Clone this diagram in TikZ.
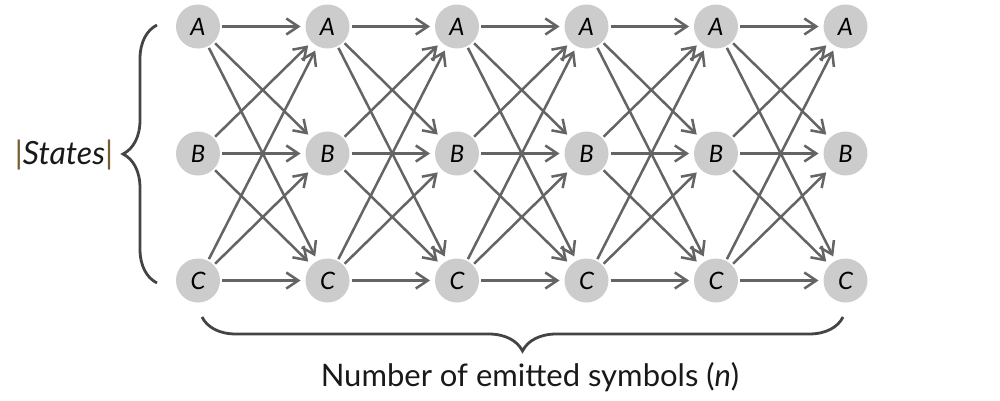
\documentclass[tikz,border=0pt]{standalone}
\usepackage{fontspec}
\setmainfont{Lato}
\usetikzlibrary{arrows.meta, decorations.pathreplacing, matrix, positioning}
\definecolor{stategray}{RGB}{204,204,204}
\definecolor{arrowgray}{RGB}{100,100,100}
\definecolor{bracegray}{RGB}{68,68,68}
\definecolor{barbrown}{RGB}{120,92,50}
\tikzset{
  state/.style={circle, fill=stategray, minimum size=22pt, inner sep=0pt, outer sep=0pt, font=\itshape\fontsize{12}{14}\selectfont},
  pto/.style={-{Straight Barb[length=6pt,width=8pt]}, line width=1.25pt, arrowgray, shorten >=2.5pt, shorten <=1pt},
  curly/.style={decorate, decoration={brace, amplitude=17pt}, line width=1.4pt, bracegray},
}

\begin{document}
\begin{tikzpicture}[x=0.5pt, y=-0.5pt]
    \useasboundingbox (0,0) rectangle (1000,401);
    \matrix (trellis) at (521.75,153.5) [row sep=41.5pt, column sep=42.75pt]
    {
        \node[state] (a1) {A}; & \node[state] (a2) {A}; & \node[state] (a3) {A}; &
        \node[state] (a4) {A}; & \node[state] (a5) {A}; & \node[state] (a6) {A}; \\

        \node[state] (b1) {B}; & \node[state] (b2) {B}; & \node[state] (b3) {B}; &
        \node[state] (b4) {B}; & \node[state] (b5) {B}; & \node[state] (b6) {B}; \\

        \node[state] (c1) {C}; & \node[state] (c2) {C}; & \node[state] (c3) {C}; &
        \node[state] (c4) {C}; & \node[state] (c5) {C}; & \node[state] (c6) {C}; \\
    };

    \foreach \i/\j in {1/2, 2/3, 3/4, 4/5, 5/6}
      \foreach \s in {a, b, c}
        \foreach \t in {a, b, c}
          \draw[pto] (\s\i) -- (\t\j);

    \draw[curly] (157,283) -- (157,25);
    \draw[curly] (843,317) -- (202,317);

    \node[font=\fontsize{16}{19}\selectfont, text=black!90] (states) at (64,155)
      {{\color{barbrown}|}\textit{States}{\color{barbrown}|}};
    \node[font=\fontsize{15.5}{18}\selectfont, text=black!90] (symbols) at (530,377)
      {Number of emitted symbols (\textit{n})};
  \end{tikzpicture}
\end{document}
